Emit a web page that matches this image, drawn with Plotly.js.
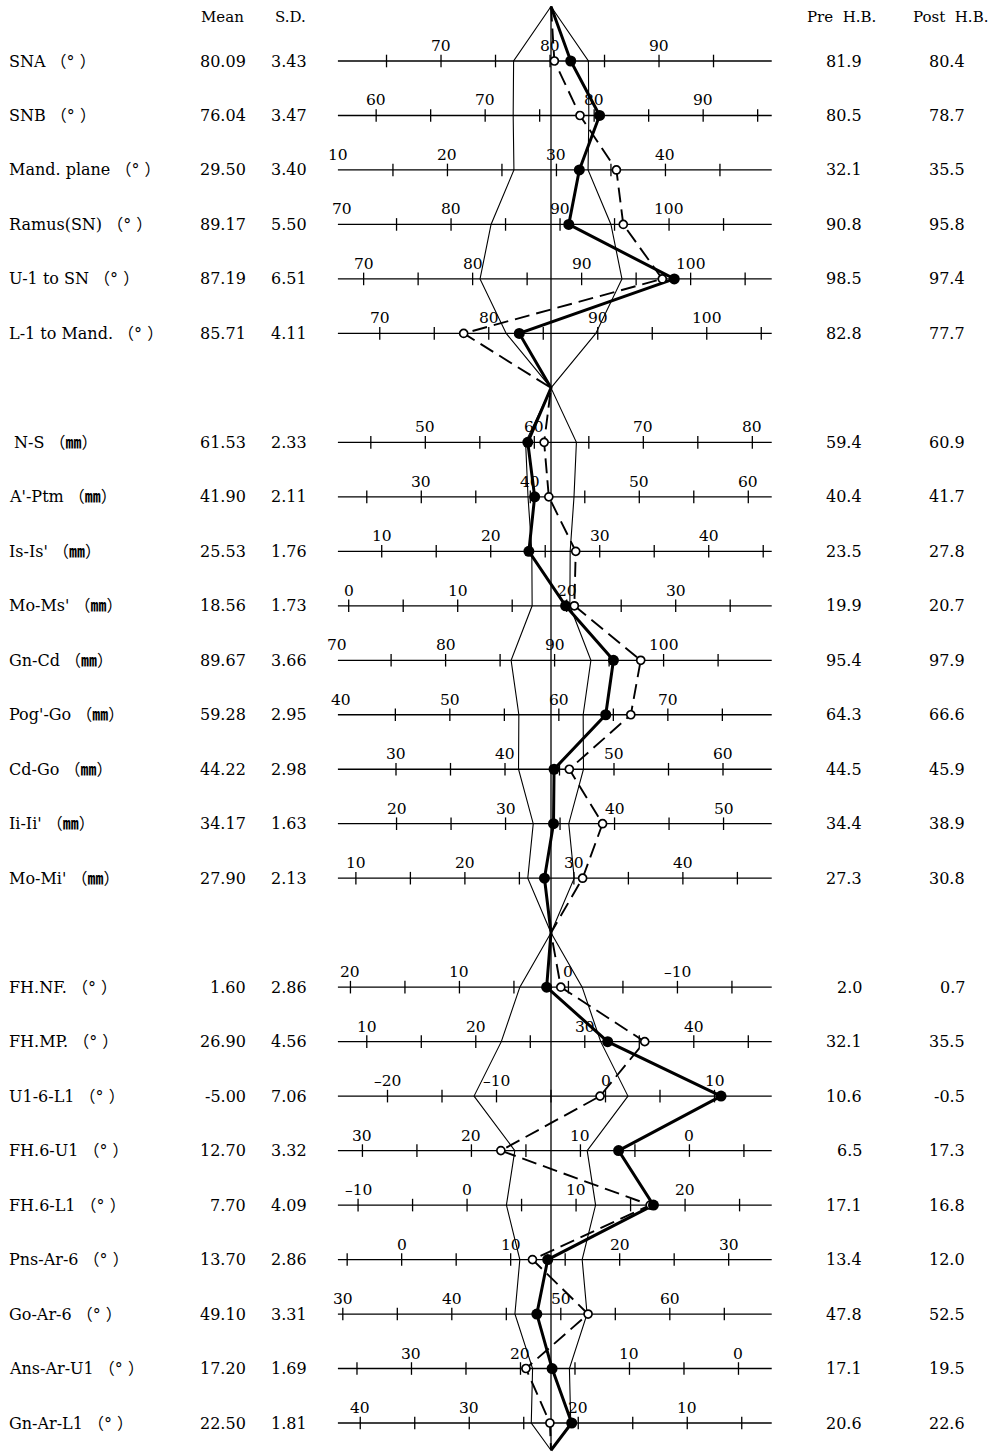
<!DOCTYPE html>
<html><head><meta charset="utf-8">
<script src="https://cdn.plot.ly/plotly-3.0.1.min.js"></script>
<style>html,body{margin:0;padding:0;background:#fff}</style>
</head><body><div id="chart" style="width:999px;height:1452px"></div>
<script>
// ---------- data ----------
const labels = [
  "SNA （° ）", "SNB （° ）", "Mand. plane （° ）", "Ramus(SN) （° ）", "U-1 to SN （° ）", "L-1 to Mand. （° ）",
  " N-S （<b>㎜</b>）", "A'-Ptm （<b>㎜</b>）", "Is-Is' （<b>㎜</b>）", "Mo-Ms' （<b>㎜</b>）", "Gn-Cd （<b>㎜</b>）", "Pog'-Go （<b>㎜</b>）", "Cd-Go （<b>㎜</b>）", "Ii-Ii' （<b>㎜</b>）", "Mo-Mi' （<b>㎜</b>）",
  "FH.NF. （° ）", "FH.MP. （° ）", "U1-6-L1 （° ）", "FH.6-U1 （° ）", "FH.6-L1 （° ）", "Pns-Ar-6 （° ）", "Go-Ar-6 （° ）", "Ans-Ar-U1 （° ）", "Gn-Ar-L1 （° ）"
];
const means = [80.09, 76.04, 29.50, 89.17, 87.19, 85.71,
  61.53, 41.90, 25.53, 18.56, 89.67, 59.28, 44.22, 34.17, 27.90,
  1.60, 26.90, -5.00, 12.70, 7.70, 13.70, 49.10, 17.20, 22.50];
const sds = [3.43, 3.47, 3.40, 5.50, 6.51, 4.11,
  2.33, 2.11, 1.76, 1.73, 3.66, 2.95, 2.98, 1.63, 2.13,
  2.86, 4.56, 7.06, 3.32, 4.09, 2.86, 3.31, 1.69, 1.81];
const preHB = [81.9, 80.5, 32.1, 90.8, 98.5, 82.8,
  59.4, 40.4, 23.5, 19.9, 95.4, 64.3, 44.5, 34.4, 27.3,
  2.0, 32.1, 10.6, 6.5, 17.1, 13.4, 47.8, 17.1, 20.6];
const postHB = [80.4, 78.7, 35.5, 95.8, 97.4, 77.7,
  60.9, 41.7, 27.8, 20.7, 97.9, 66.6, 45.9, 38.9, 30.8,
  0.7, 35.5, -0.5, 17.3, 16.8, 12.0, 52.5, 19.5, 22.6];
const meanText = ["80.09","76.04","29.50","89.17","87.19","85.71",
  "61.53","41.90","25.53","18.56","89.67","59.28","44.22","34.17","27.90",
  "1.60","26.90","-5.00","12.70","7.70","13.70","49.10","17.20","22.50"];
const sdText = ["3.43","3.47","3.40","5.50","6.51","4.11",
  "2.33","2.11","1.76","1.73","3.66","2.95","2.98","1.63","2.13",
  "2.86","4.56","7.06","3.32","4.09","2.86","3.31","1.69","1.81"];
const preText = ["81.9","80.5","32.1","90.8","98.5","82.8",
  "59.4","40.4","23.5","19.9","95.4","64.3","44.5","34.4","27.3",
  "2.0","32.1","10.6","6.5","17.1","13.4","47.8","17.1","20.6"];
const postText = ["80.4","78.7","35.5","95.8","97.4","77.7",
  "60.9","41.7","27.8","20.7","97.9","66.6","45.9","38.9","30.8",
  "0.7","35.5","-0.5","17.3","16.8","12.0","52.5","19.5","22.6"];
// +1 : scale increases to the right, -1 : scale increases to the left
const scaleDir = [1,1,1,1,1,1, 1,1,1,1,1,1,1,1,1, -1,1,1,-1,1,1,1,-1,-1];
const tickLabels = [
  [70,80,90],[60,70,80,90],[10,20,30,40],[70,80,90,100],[70,80,90,100],[70,80,90,100],
  [50,60,70,80],[30,40,50,60],[10,20,30,40],[0,10,20,30],[70,80,90,100],[40,50,60,70],[30,40,50,60],[20,30,40,50],[10,20,30,40],
  [20,10,0,-10],[10,20,30,40],[-20,-10,0,10],[30,20,10,0],[-10,0,10,20],[0,10,20,30],[30,40,50,60],[30,20,10,0],[40,30,20,10]
];
const groupSizes = [6, 9, 9];

// ---------- layout constants (style) ----------
const W = 999, H = 1452;
const PX_PER_UNIT = 10.9, CENTER_PX = 551;
const ROW0_PX = 61, ROW_PX = 54.48;
const LINE_L = -19.55, LINE_R = 20.25;
const BOTTOM_APEX = 25.5;
const FONT = "DejaVu Serif, 'Noto Sans CJK KR', serif";

// row positions from group structure (one blank row between groups)
const rowY = [];
const apexY = [-1];
let idx = 0;
groupSizes.forEach((n, g) => {
  for (let i = 0; i < n; i++) rowY.push(idx + i);
  idx += n;
  apexY.push(g < groupSizes.length - 1 ? idx : BOTTOM_APEX);
  idx += 1;
});

const dev = (v, r) => (v - means[r]) * scaleDir[r];

function seriesPath(fn) {
  const xs = [0], ys = [apexY[0]];
  let r = 0;
  groupSizes.forEach((n, g) => {
    for (let i = 0; i < n; i++, r++) { xs.push(fn(r)); ys.push(rowY[r]); }
    xs.push(0); ys.push(apexY[g + 1]);
  });
  return {xs, ys};
}

const traces = [];
const shapes = [];
const annotations = [];

// row baselines
rowY.forEach(y => shapes.push({type:'line', xref:'x', yref:'y', x0:LINE_L, x1:LINE_R, y0:y, y1:y, line:{color:'#000', width:1.3}, layer:'below'}));

// minor ticks every 5 units
const tx = [], ty = [];
rowY.forEach((y, r) => {
  const lo = Math.min(means[r] + LINE_L * scaleDir[r], means[r] + LINE_R * scaleDir[r]);
  const hi = Math.max(means[r] + LINE_L * scaleDir[r], means[r] + LINE_R * scaleDir[r]);
  for (let v = Math.ceil(lo / 5) * 5; v <= hi; v += 5) {
    const d = dev(v, r);
    if (d > LINE_L + 0.4 && d < LINE_R - 0.4) { tx.push(d); ty.push(y); }
  }
});
traces.push({x:tx, y:ty, mode:'markers', type:'scatter', hoverinfo:'skip',
  marker:{symbol:'line-ns-open', size:9, color:'#000', line:{color:'#000', width:1.3}}});

// tick labels
rowY.forEach((y, r) => {
  tickLabels[r].forEach(t => annotations.push({x:dev(t, r), y:y, xref:'x', yref:'y',
    text:String(t).replace('-', '–'), showarrow:false, yshift:15, xanchor:'center', yanchor:'middle',
    font:{family:FONT, size:15.5, color:'#000'}}));
});

// mean line
traces.push({x:[0,0], y:[apexY[0], apexY[apexY.length-1]], mode:'lines', type:'scatter', hoverinfo:'skip',
  line:{color:'#000', width:1.3}});

// +/- 1 SD polygon
const sdL = seriesPath(r => -sds[r]);
const sdR = seriesPath(r => sds[r]);
traces.push({x:sdL.xs, y:sdL.ys, mode:'lines', type:'scatter', hoverinfo:'skip', line:{color:'#000', width:1.1}});
traces.push({x:sdR.xs, y:sdR.ys, mode:'lines', type:'scatter', hoverinfo:'skip', line:{color:'#000', width:1.1}});

// post H.B. (dashed, open circles)
const post = seriesPath(r => dev(postHB[r], r));
traces.push({x:post.xs, y:post.ys, mode:'lines', type:'scatter', hoverinfo:'skip',
  line:{color:'#000', width:1.9, dash:'15px,7px'}});
// pre H.B. (solid, filled circles)
const pre = seriesPath(r => dev(preHB[r], r));
traces.push({x:pre.xs, y:pre.ys, mode:'lines', type:'scatter', hoverinfo:'skip',
  line:{color:'#000', width:3}});
traces.push({x:rowY.map((y, r) => dev(postHB[r], r)), y:rowY, mode:'markers', type:'scatter', hoverinfo:'skip',
  marker:{symbol:'circle', size:8, color:'#fff', line:{color:'#000', width:1.7}}});
traces.push({x:rowY.map((y, r) => dev(preHB[r], r)), y:rowY, mode:'markers', type:'scatter', hoverinfo:'skip',
  marker:{symbol:'circle', size:11, color:'#000', line:{width:0}}});

// text columns
const colText = (txt, xpx, y, anchor) => annotations.push({x:xpx / W, xref:'paper', y:y, yref:'y',
  text:txt, showarrow:false, xanchor:anchor, yanchor:'middle', font:{family:FONT, size:16, color:'#000'}});
rowY.forEach((y, r) => {
  colText(labels[r], 7, y, 'left');
  colText(meanText[r], 248, y, 'right');
  colText(sdText[r], 309, y, 'right');
  colText(preText[r], 864, y, 'right');
  colText(postText[r], 967, y, 'right');
});
const header = (txt, xpx) => annotations.push({x:xpx / W, xref:'paper', y:1 - 17 / H, yref:'paper',
  text:txt, showarrow:false, xanchor:'center', yanchor:'middle', font:{family:FONT, size:15, color:'#000'}});
header('Mean', 222); header('S.D.', 290); header('Pre  H.B.', 841); header('Post  H.B.', 950);

const layout = {
  width:W, height:H, margin:{l:0, r:0, t:0, b:0},
  paper_bgcolor:'#fff', plot_bgcolor:'#fff', showlegend:false,
  xaxis:{range:[(0 - CENTER_PX) / PX_PER_UNIT, (W - CENTER_PX) / PX_PER_UNIT], visible:false, fixedrange:true},
  yaxis:{range:[(H - ROW0_PX) / ROW_PX, (0 - ROW0_PX) / ROW_PX], visible:false, fixedrange:true},
  shapes:shapes, annotations:annotations
};
Plotly.newPlot('chart', traces, layout, {displayModeBar:false, staticPlot:true});
</script></body></html>
